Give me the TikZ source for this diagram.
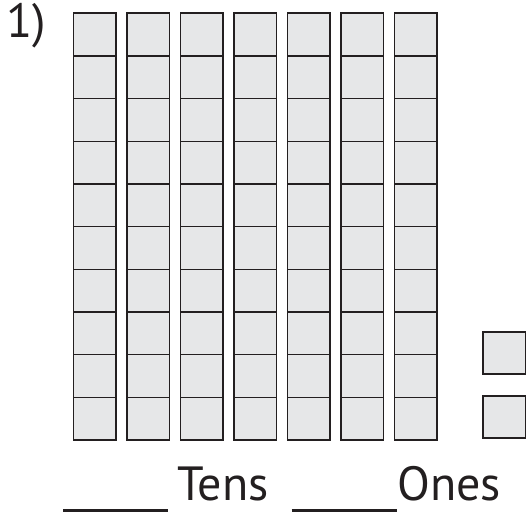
\documentclass[tikz,border=0pt]{standalone}
\usepackage{fontspec}
\setmainfont{PT Sans}
\usepackage{tikz}
\definecolor{blockfill}{HTML}{E6E7E8}
\definecolor{blockline}{HTML}{231F20}
\tikzset{
  unit/.style={draw=blockline,fill=blockfill,line width=1.6pt,inner sep=0pt,outer sep=0pt,
    minimum width=42.8pt,minimum height=42.67pt,anchor=north west},
  label/.style={font=\fontsize{48}{48}\selectfont,inner sep=0pt,anchor=base west,text=blockline}
}
\begin{document}
\begin{tikzpicture}[x=1pt,y=-1pt]
  \useasboundingbox (0,0) rectangle (526,513);
  % tens rods
  \foreach \i in {0,...,6}
    \foreach \j in {0,...,9}
      \node[unit] (rod\i-\j) at (73.3+53.5*\i,13.3+42.67*\j) {};
  % ones
  \node[unit,minimum width=43pt,minimum height=42.5pt] (one1) at (482.7,331.7) {};
  \node[unit,minimum width=43pt,minimum height=42.5pt] (one2) at (482.7,395.7) {};

  \draw (6,38) node[label](num){1)};
  \draw (177,500) node[label](tens){Tens};
  \draw (397,500) node[label](ones){Ones};

  \draw[line width=3pt,blockline] (63.3,510)--(168.3,510);
  \draw[line width=3pt,blockline] (291.7,510)--(396.7,510);
\end{tikzpicture}
\end{document}
